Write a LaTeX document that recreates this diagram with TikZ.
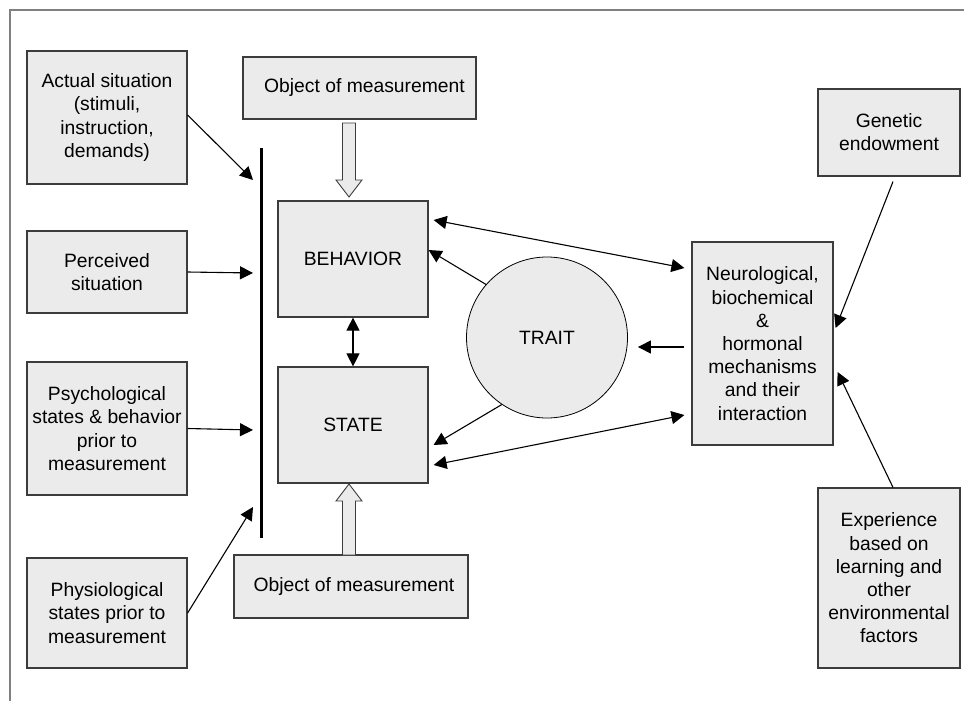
\documentclass[tikz,border=0pt]{standalone}
\usepackage{fontspec}
\setmainfont{Liberation Sans}
\usepackage{xcolor}
\usepackage{tikz}
\usetikzlibrary{arrows.meta}

\definecolor{boxfill}{HTML}{EBEBEB}
\definecolor{boxline}{HTML}{3C3C3C}
\definecolor{framegray}{HTML}{808080}

\begin{document}
\begin{tikzpicture}[x=1pt, y=-1pt,
  >={Triangle[length=13pt,width=13pt]},
  box/.style={draw=boxline, fill=boxfill, line width=1.2pt, align=center,
    inner sep=2pt, font=\fontsize{19.3}{23.2}\selectfont},
  conn/.style={line width=1.1pt},
  hollow/.style={draw=boxline, fill=boxfill, line width=0.9pt}]
  \useasboundingbox (0,0) rectangle (964,701);

  % Frame (top and left edge)
  \draw[framegray, line width=1.5pt] (964,10) -- (10,10) -- (10,701);

  % Situation boxes on the left
  \node[box, minimum width=160, minimum height=133] (actual) at (107,117.5)
    {Actual situation\\(stimuli,\\instruction,\\demands)};
  \node[box, minimum width=160, minimum height=82] (perceived) at (107,272)
    {Perceived\\situation};
  \node[box, minimum width=160, minimum height=133] (psych) at (107,428.5)
    {Psychological\\states \& behavior\\prior to\\measurement};
  \node[box, minimum width=160, minimum height=110] (physio) at (107,613)
    {Physiological\\states prior to\\measurement};

  % Vertical bar
  \draw[line width=3pt] (261,148) -- (261,538);
  \coordinate (barA) at (253,180);
  \coordinate (barB) at (253,273);
  \coordinate (barC) at (253,430);
  \coordinate (barD) at (253,507);

  % Behavior and state
  \node[box, minimum width=233, minimum height=62] (objtop) at (359.5,88)
    {\hspace*{10pt}Object of measurement};
  \node[box, minimum width=150, minimum height=116] (behavior) at (353,259) {BEHAVIOR};
  \node[box, minimum width=150, minimum height=116] (state) at (353,425) {STATE};
  \node[box, minimum width=234, minimum height=63] (objbot) at (351,586.5)
    {\hspace*{6pt}Object of measurement};

  % Trait circle
  \node[circle, draw=black, fill=boxfill, line width=0.8pt, minimum size=161,
    inner sep=0pt, font=\fontsize{19.3}{23.2}\selectfont] (trait) at (547,337.5) {TRAIT};

  % Boxes on the right
  \node[box, minimum width=142, minimum height=87] (genetic) at (889,132.5)
    {Genetic\\endowment};
  \node[box, minimum width=141, minimum height=203] (neuro) at (762.5,343.5)
    {Neurological,\\biochemical\\\&\\hormonal\\mechanisms\\and their\\interaction};
  \node[box, minimum width=142, minimum height=180] (experience) at (889,578)
    {Experience\\based on\\learning and\\other\\environmental\\factors};

  % Hollow arrows from the objects of measurement
  \draw[hollow] (342.5,123) -- (355.5,123) -- (355.5,180) -- (362,180)
    -- (349,197) -- (336,180) -- (342.5,180) -- cycle;
  \draw[hollow] (342.5,555) -- (355.5,555) -- (355.5,501) -- (362,501)
    -- (349,484) -- (336,501) -- (342.5,501) -- cycle;

  % Arrows into the bar
  \draw[conn, ->] ([yshift=2.5pt]actual.east) -- (barA);
  \draw[conn, ->] (perceived.east) -- (barB);
  \draw[conn, ->] (psych.east) -- (barC);
  \draw[conn, ->] (physio.east) -- (barD);

  % Arrows around behavior, state and trait
  \draw[conn, <->] (behavior.south) -- (state.north);
  \draw[conn, <->] ([xshift=5pt,yshift=39pt]behavior.east)
    -- ([xshift=-7pt,yshift=75.5pt]neuro.west);
  \draw[conn, ->] (trait.139) -- ([yshift=9pt]behavior.east);
  \draw[conn, ->] (trait.236) -- ([xshift=5pt,yshift=-20pt]state.east);
  \draw[conn, ->] ([xshift=-7pt,yshift=-3.5pt]neuro.west)
    -- ([xshift=10pt,yshift=-9.5pt]trait.east);
  \draw[conn, <->] ([xshift=5pt,yshift=-40pt]state.east)
    -- ([xshift=-7pt,yshift=-71.5pt]neuro.west);

  % Arrows into the mechanisms
  \draw[conn, ->] ([xshift=4pt,yshift=-5pt]genetic.south)
    -- ([xshift=2pt,yshift=15.5pt]neuro.east);
  \draw[conn, ->] ([xshift=4pt]experience.north)
    -- ([xshift=4pt,yshift=-28.5pt]neuro.east);
\end{tikzpicture}
\end{document}
